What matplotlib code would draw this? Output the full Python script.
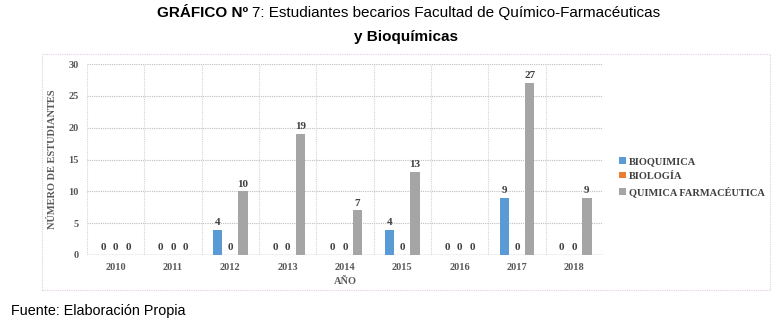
import numpy as np
import matplotlib.pyplot as plt
from matplotlib.patches import Rectangle

# -- data --
years = ['2010', '2011', '2012', '2013', '2014', '2015', '2016', '2017', '2018']
bioquimica = [0, 0, 4, 0, 0, 4, 0, 9, 0]
biologia = [0, 0, 0, 0, 0, 0, 0, 0, 0]
quimica_farm = [0, 0, 10, 19, 7, 13, 0, 27, 9]
series = [('BIOQUIMICA', bioquimica, '#5B9BD5'),
          ('BIOLOGÍA', biologia, '#ED7D31'),
          ('QUIMICA FARMACÉUTICA', quimica_farm, '#A5A5A5')]

serif = 'Liberation Serif'
sans = 'Liberation Sans'
txt_col = '#404040'

fig = plt.figure(figsize=(7.78, 3.19), dpi=100)
ax = fig.add_axes([87/778, 1-255/319, (603-87)/778, (255-64)/319])

x = np.arange(len(years))
width = 0.16
offsets = [-0.22, 0.0, 0.22]
for (name, vals, col), off in zip(series, offsets):
    bars = ax.bar(x + off, vals, width, color=col, label=name, zorder=3)
    ax.bar_label(bars, padding=2, fontsize=8, fontweight='bold',
                 family=serif, color=txt_col)

ax.set_xlim(-0.5, len(years) - 0.5)
ax.set_ylim(0, 30)
ax.set_yticks(range(0, 31, 5))
ax.set_xticks(x)
ax.set_xticklabels(years)
for lab in ax.get_xticklabels() + ax.get_yticklabels():
    lab.set_family(serif)
    lab.set_fontweight('bold')
    lab.set_fontsize(7.5)
    lab.set_color('#595959')
ax.tick_params(length=0, pad=6)

# grid
for y in range(5, 31, 5):
    ax.axhline(y, color='#BFBFBF', lw=0.8, ls=(0, (1, 1)), zorder=1)
for b in np.arange(-0.5, len(years), 1.0):
    ax.axvline(b, color='#C8DCC8', lw=0.8, ls=(0, (1, 1)), zorder=1)
ax.axhline(0, color='#BFBFBF', lw=1.0, zorder=2)
for s in ax.spines.values():
    s.set_visible(False)

ax.set_xlabel('AÑO', family=serif, fontweight='bold', fontsize=7.5,
              color='#595959', labelpad=3)
ax.set_ylabel('NÚMERO DE ESTUDIANTES', family=serif, fontweight='bold',
              fontsize=7.5, color='#595959', labelpad=8)

leg = fig.legend(loc='center left', bbox_to_anchor=(610/778, 1-177/319),
                 frameon=False, handlelength=0.6, handleheight=0.6,
                 handletextpad=0.3, labelspacing=0.55,
                 prop={'family': serif, 'weight': 'bold', 'size': 7.5})
for t in leg.get_texts():
    t.set_color(txt_col)

# outer chart frame
fig.patches.append(Rectangle((42/778, 1-290/319), (770-42)/778, (290-54)/319,
                             transform=fig.transFigure, fill=False,
                             ec='#E6CCE6', lw=0.8, ls=(0, (1, 1))))

# title
fig.text(252/778, 1-13/319, 'GRÁFICO Nº ', family=sans,
         fontweight='bold', fontsize=11, ha='right', va='center')
fig.text(252/778, 1-13/319, '7: Estudiantes becarios Facultad de Químico-Farmacéuticas',
         family=sans, fontsize=11, ha='left', va='center')
fig.text(406/778, 1-37/319, 'y Bioquímicas', family=sans, fontweight='bold',
         fontsize=11, ha='center', va='center')

fig.text(11/778, 1-311/319, 'Fuente: Elaboración Propia', family=sans,
         fontsize=10.4, ha='left', va='center')

fig.savefig('out.png', dpi=100)
